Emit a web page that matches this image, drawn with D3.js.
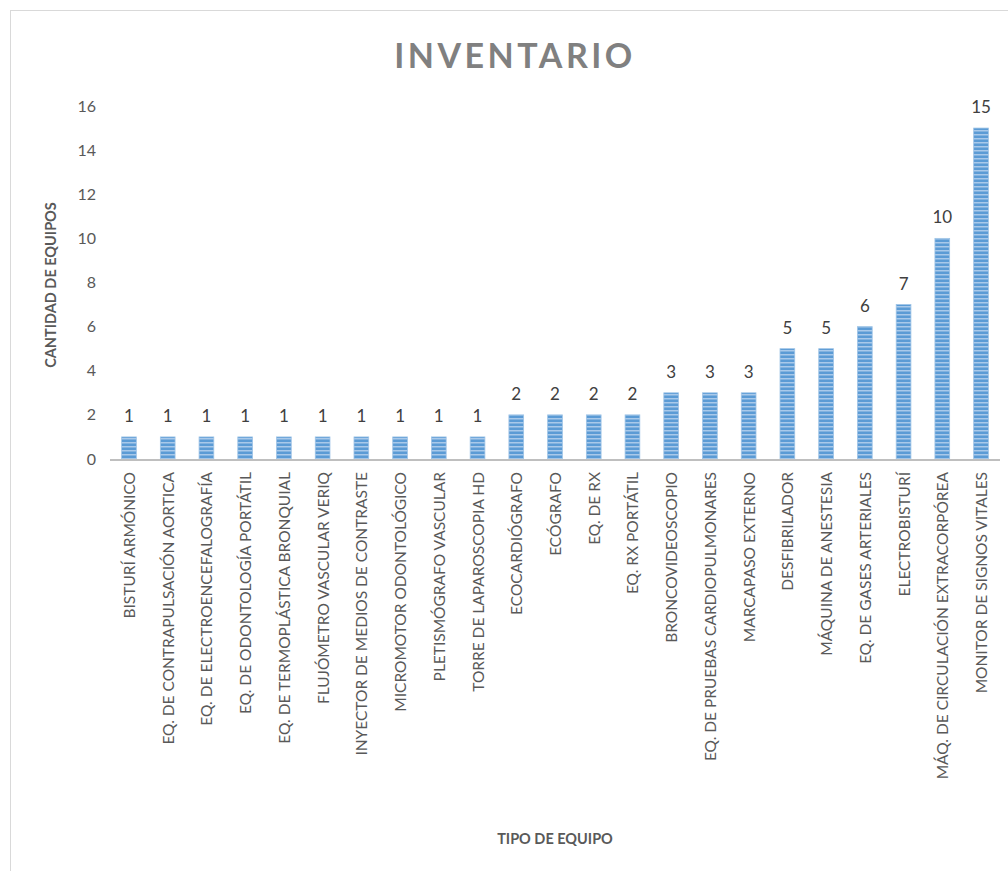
<!DOCTYPE html>
<html>
<head>
<meta charset="utf-8">
<title>Inventario</title>
<script src="https://d3js.org/d3.v7.min.js"></script>
<style>
  body { margin: 0; background: white; }
  svg { display: block; font-family: Lato, "Open Sans", sans-serif; }
</style>
</head>
<body>
<svg></svg>
<script>
// equipment types and counts
const categories = [
  "BISTURÍ ARMÓNICO", "EQ. DE CONTRAPULSACIÓN AORTICA", "EQ. DE ELECTROENCEFALOGRAFÍA",
  "EQ. DE ODONTOLOGÍA PORTÁTIL", "EQ. DE TERMOPLÁSTICA BRONQUIAL", "FLUJÓMETRO VASCULAR VERIQ",
  "INYECTOR DE MEDIOS DE CONTRASTE", "MICROMOTOR ODONTOLÓGICO", "PLETISMÓGRAFO VASCULAR",
  "TORRE DE LAPAROSCOPIA HD", "ECOCARDIÓGRAFO", "ECÓGRAFO", "EQ. DE RX", "EQ. RX PORTÁTIL",
  "BRONCOVIDEOSCOPIO", "EQ. DE PRUEBAS CARDIOPULMONARES", "MARCAPASO EXTERNO", "DESFIBRILADOR",
  "MÁQUINA DE ANESTESIA", "EQ. DE GASES ARTERIALES", "ELECTROBISTURÍ",
  "MÁQ. DE CIRCULACIÓN EXTRACORPÓREA", "MONITOR DE SIGNOS VITALES"
]
const counts = [1, 1, 1, 1, 1, 1, 1, 1, 1, 1, 2, 2, 2, 2, 3, 3, 3, 5, 5, 6, 7, 10, 15]
const yTicks = [0, 2, 4, 6, 8, 10, 12, 14, 16]

const width = 1008, height = 871
const svg = d3.select("svg").attr("width", width).attr("height", height)

// chart frame
svg.append("rect")
  .attr("x", 10.5).attr("y", 10.5)
  .attr("width", 1100).attr("height", 1000)
  .attr("fill", "white")
  .attr("stroke", "#d9d9d9")

// stripe pattern for bars
const defs = svg.append("defs")
const pat = defs.append("pattern")
  .attr("id", "stripes")
  .attr("patternUnits", "userSpaceOnUse")
  .attr("width", 10).attr("height", 4)
pat.append("rect").attr("width", 10).attr("height", 4).attr("fill", "#5b9bd5")
pat.append("rect").attr("y", 2).attr("width", 10).attr("height", 1.5).attr("fill", "#a9c9ea")

const plotLeft = 110, plotRight = 1000, plotTop = 106, plotBase = 459

const x = d3.scaleBand()
  .domain(categories)
  .range([plotLeft, plotRight])
  .paddingInner(0.62)
  .paddingOuter(0.3)

const y = d3.scaleLinear().domain([0, 16]).range([plotBase, plotTop])

// title
svg.append("text")
  .attr("x", 515).attr("y", 68)
  .attr("text-anchor", "middle")
  .attr("font-size", 34).attr("font-weight", "bold")
  .attr("letter-spacing", 3.5)
  .attr("fill", "#808080")
  .text("INVENTARIO")

// y tick labels
svg.append("g").selectAll("text")
  .data(yTicks)
  .join("text")
  .attr("x", 96)
  .attr("y", d => y(d))
  .attr("dy", "0.35em")
  .attr("text-anchor", "end")
  .attr("font-size", 16)
  .attr("fill", "#595959")
  .text(d => d)

// bars
svg.append("g").selectAll("rect")
  .data(counts)
  .join("rect")
  .attr("x", (d, i) => x(categories[i]))
  .attr("y", d => y(d))
  .attr("width", x.bandwidth())
  .attr("height", d => plotBase - y(d))
  .attr("fill", "url(#stripes)")
  .attr("stroke", "#9dc3e6")
  .attr("stroke-width", 0.8)

// value labels
svg.append("g").selectAll("text")
  .data(counts)
  .join("text")
  .attr("x", (d, i) => x(categories[i]) + x.bandwidth() / 2)
  .attr("y", d => y(d) - 15)
  .attr("text-anchor", "middle")
  .attr("font-size", 17)
  .attr("fill", "#404040")
  .text(d => d)

// x baseline
svg.append("line")
  .attr("x1", plotLeft).attr("x2", plotRight)
  .attr("y1", plotBase + 1).attr("y2", plotBase + 1)
  .attr("stroke", "#bfbfbf").attr("stroke-width", 2)

// category labels, rotated
svg.append("g").selectAll("text")
  .data(categories)
  .join("text")
  .attr("transform", d => `translate(${x(d) + x.bandwidth() / 2 + 6},472) rotate(-90)`)
  .attr("text-anchor", "end")
  .attr("font-size", 15.5)
  .attr("fill", "#595959")
  .text(d => d)

// axis titles
svg.append("text")
  .attr("transform", "translate(56,285) rotate(-90)")
  .attr("text-anchor", "middle")
  .attr("font-size", 14.5).attr("font-weight", "bold")
  .attr("fill", "#595959")
  .text("CANTIDAD DE EQUIPOS")

svg.append("text")
  .attr("x", 555).attr("y", 844)
  .attr("text-anchor", "middle")
  .attr("font-size", 14.5).attr("font-weight", "bold")
  .attr("fill", "#595959")
  .text("TIPO DE EQUIPO")
</script>
</body>
</html>
